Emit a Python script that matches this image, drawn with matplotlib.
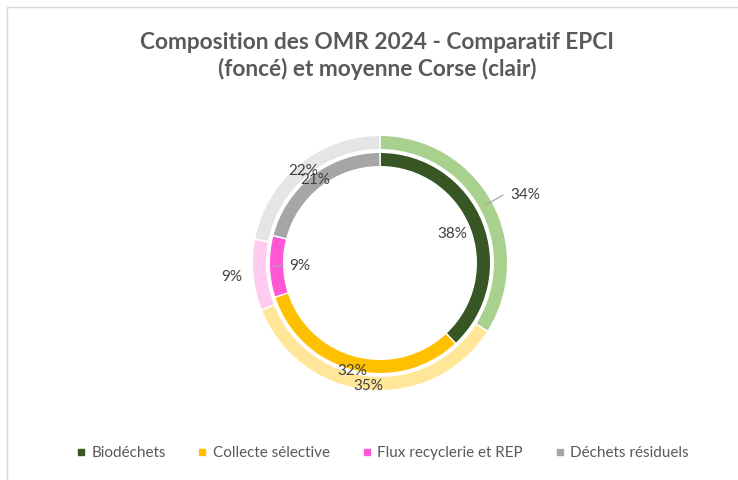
import numpy as np
import matplotlib.pyplot as plt
from matplotlib.patches import Rectangle

plt.rcParams['font.family'] = ['Lato', 'DejaVu Sans']

categories = ['Biodéchets', 'Collecte sélective', 'Flux recyclerie et REP', 'Déchets résiduels']
epci_values = [38, 32, 9, 21]      # anneau intérieur (foncé)
corse_values = [34, 35, 9, 22]     # anneau extérieur (clair)
dark_colors = ['#375623', '#FFC000', '#FF57D5', '#A6A6A6']
light_colors = ['#A9D18E', '#FFE699', '#FFCCF0', '#E5E5E5']

# position des étiquettes (rayon relatif, décalage d'angle) et lignes de repère
outer_label_r = [1.26, 0.975, 1.17, 0.945]
outer_label_da = [-3.7, 0, 0, 0]
inner_label_r = [0.61, 0.88, 0.63, 0.83]
inner_label_da = [0, 0, 0, 0]
outer_leader = [True, False, False, False]
inner_leader = [False, False, True, False]

W, H = 738, 480
fig = plt.figure(figsize=(W / 100, H / 100), dpi=100)
fig.patches.append(Rectangle((7 / W, -0.1), 1.2, 1 - 7 / H + 0.1, transform=fig.transFigure,
                             fill=False, edgecolor='#D9D9D9', linewidth=1))

cx, cy, R = 380, H - 263, 127
s = 1.5 * R
ax = fig.add_axes([(cx - s) / W, (cy - s) / H, 2 * s / W, 2 * s / H])
ax.set_aspect('equal')
ax.axis('off')

edge = 0.7 / R
wp = dict(width=13 / R + 2 * edge, edgecolor='white', linewidth=1)
ax.pie(corse_values, radius=1.0 + edge, colors=light_colors, startangle=90, counterclock=False, wedgeprops=wp)
ax.pie(epci_values, radius=110 / R + edge, colors=dark_colors, startangle=90, counterclock=False, wedgeprops=wp)
ax.set_xlim(-1.5, 1.5)
ax.set_ylim(-1.5, 1.5)


def put_labels(values, radii, dangs, leaders, ring_r):
    total = sum(values)
    cum = 0
    for v, r, da, lead in zip(values, radii, dangs, leaders):
        mid_deg = 90 - 360 * (cum + v / 2) / total
        cum += v
        a = np.deg2rad(mid_deg + da)
        x, y = r * np.cos(a), r * np.sin(a)
        txt = f'{v}%'
        ax.text(x, y, txt, ha='center', va='center', fontsize=11, color='#404040')
        if lead:
            m = np.deg2rad(mid_deg)
            x0, y0 = ring_r * np.cos(m), ring_r * np.sin(m)
            gap = (5 * len(txt) + 7) / R
            x1 = x - np.sign(x - x0) * gap
            ax.plot([x0, x1], [y0, y], color='#A6A6A6', linewidth=0.9)


put_labels(corse_values, outer_label_r, outer_label_da, outer_leader, 0.945)
put_labels(epci_values, inner_label_r, inner_label_da, inner_leader, 0.83)

fig.text(377 / W, 1 - 56 / H, 'Composition des OMR 2024 - Comparatif EPCI\n(foncé) et moyenne Corse (clair)',
         ha='center', va='center', fontsize=16.3, fontweight='bold', color='#595959', linespacing=1.22)

handles = [plt.Line2D([], [], marker='s', linestyle='', markersize=5, color=c) for c in dark_colors]
fig.legend(handles, categories, loc='center', bbox_to_anchor=(381 / W, 1 - 453 / H), ncol=4, frameon=False,
           fontsize=11, labelcolor='#595959', handletextpad=0.2, columnspacing=1.9, handlelength=1.0)

fig.savefig('out.png', dpi=100)
